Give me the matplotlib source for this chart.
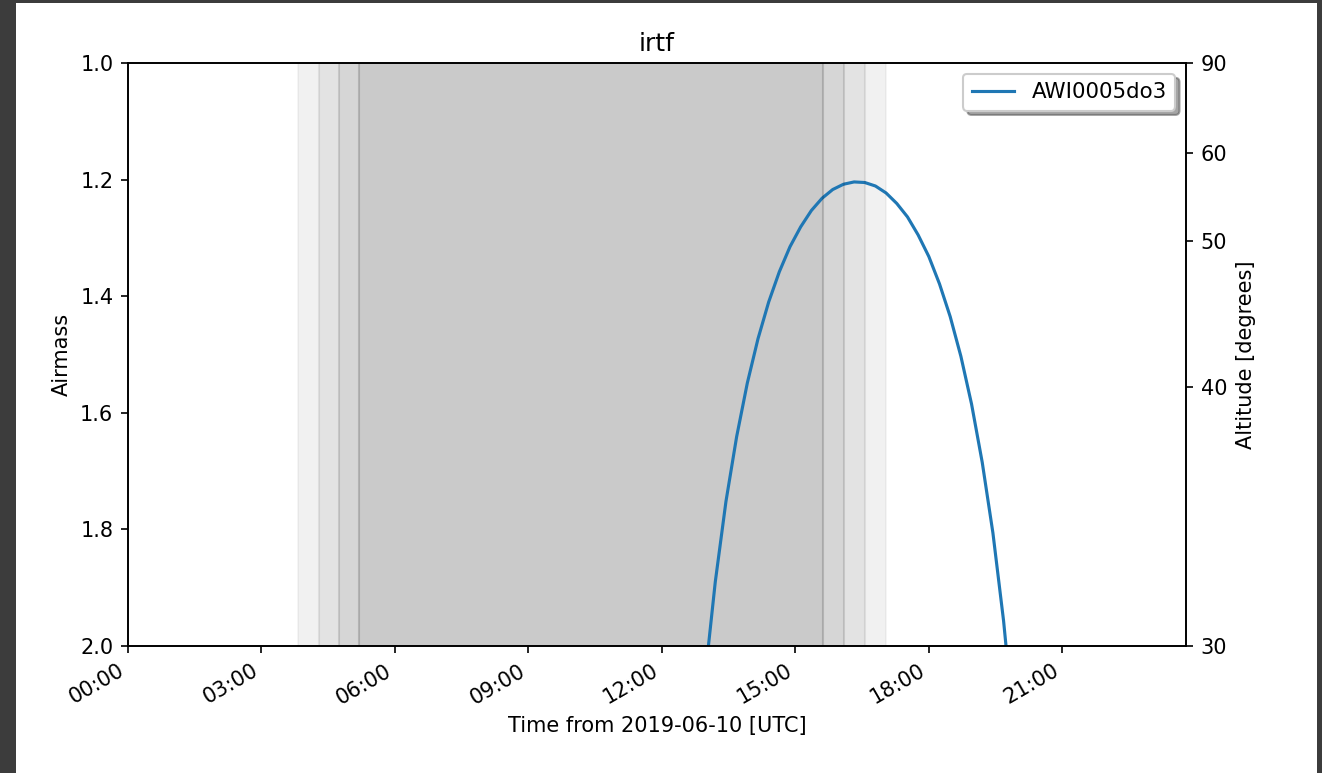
import datetime as dt

import matplotlib
matplotlib.use("Agg")
import matplotlib.pyplot as plt
import matplotlib.dates as mdates
import numpy as np
from matplotlib.patches import Rectangle

# Observing night at IRTF, 2019-06-10 (UTC)
obs_date = dt.datetime(2019, 6, 10)
site_name = "irtf"
target_name = "AWI0005do3"

# Airmass of the target on a 0.24 h grid (hours since 00:00 UTC)
time_hours = [12.72, 12.96, 13.20, 13.44, 13.68, 13.92, 14.16, 14.40, 14.64,
              14.88, 15.12, 15.36, 15.60, 15.84, 16.08, 16.32, 16.56, 16.80,
              17.04, 17.28, 17.52, 17.76, 18.00, 18.24, 18.48, 18.72, 18.96,
              19.20, 19.44, 19.68, 19.92]
airmass = [2.278, 2.061, 1.890, 1.752, 1.641, 1.549, 1.473, 1.410, 1.358,
           1.315, 1.281, 1.253, 1.232, 1.217, 1.208, 1.204, 1.205, 1.211,
           1.223, 1.241, 1.264, 1.295, 1.332, 1.379, 1.435, 1.503, 1.585,
           1.685, 1.806, 1.957, 2.145]

# Sky-brightness bands (start, end) in hours UTC, outermost first
band_starts = [3.83, 4.29, 4.75, 5.20]
band_ends = [17.04, 16.57, 16.10, 15.63]

# Axis limits and ticks
time_limits = [0.0, 23.78]
airmass_ticks = [1.0, 1.2, 1.4, 1.6, 1.8, 2.0]
altitude_ticks = [90, 60, 50, 40, 30]

DPI = 150
W, H = 1322, 773
fig = plt.figure(figsize=(W / DPI, H / DPI), dpi=DPI, facecolor="#3c3c3c")
# white page area inside the dark surround
fig.patches.append(Rectangle((16 / W, 0), (1317 - 16) / W, (H - 3) / H,
                             transform=fig.transFigure, facecolor="white",
                             edgecolor="none", zorder=-5))

left, right, top, bottom = 128, 1186, 63, 646
ax = fig.add_axes([left / W, 1 - bottom / H, (right - left) / W, (bottom - top) / H])


def to_dt(h):
    return obs_date + dt.timedelta(hours=h)


times = [to_dt(h) for h in time_hours]
ax.plot(times, airmass, color="#1f77b4", lw=1.5, label=target_name)

# nested shaded bands, each with a slightly darker outline
for i, (s, e) in enumerate(zip(band_starts, band_ends)):
    ax.axvspan(to_dt(s), to_dt(e), ymin=0, ymax=1, facecolor="k",
               edgecolor="none", alpha=0.054)
    for edge in (s, e):
        ax.axvline(to_dt(edge), color="k", alpha=0.04 * (i + 1), lw=1.0)

ax.set_xlim(to_dt(time_limits[0]), to_dt(time_limits[1]))
ax.set_ylim(airmass_ticks[-1], airmass_ticks[0])
ax.set_yticks(airmass_ticks)
ax.set_yticklabels([f"{v:.1f}" for v in airmass_ticks])
ax.xaxis.set_major_locator(mdates.HourLocator(byhour=range(0, 24, 3)))
ax.xaxis.set_major_formatter(mdates.DateFormatter("%H:%M"))
for lbl in ax.get_xticklabels():
    lbl.set_rotation(30)
    lbl.set_ha("right")

ax.set_xlabel(f"Time from {obs_date:%Y-%m-%d} [UTC]")
ax.set_ylabel("Airmass")
ax.set_title(site_name)
ax.legend(loc="upper right", shadow=True, fontsize=10.25)

ax2 = ax.twinx()
alt_airmass = 1.0 / np.cos(np.radians(90 - np.array(altitude_ticks)))
ax2.set_yticks(alt_airmass)
ax2.set_yticklabels([str(a) for a in altitude_ticks])
ax2.set_ylim(ax.get_ylim())
ax2.set_ylabel("Altitude [degrees]")

fig.savefig("out.png", dpi=DPI, facecolor=fig.get_facecolor())
